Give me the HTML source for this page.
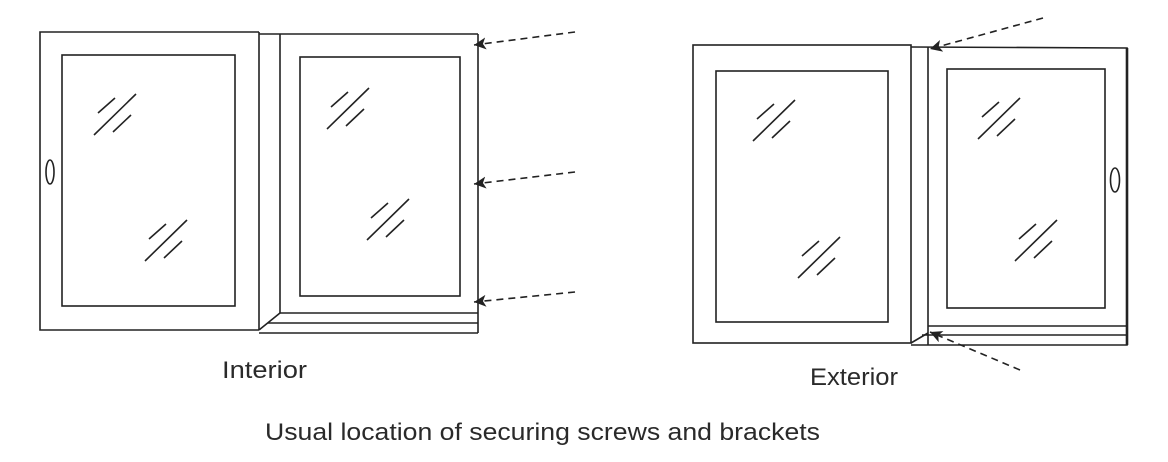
<!DOCTYPE html>
<html><head><style>
html,body{margin:0;padding:0;background:#fff;}
svg{display:block;}
text{font-family:"Liberation Sans",sans-serif;fill:#2a2a2a;}
</style></head><body>
<svg width="1168" height="462" viewBox="0 0 1168 462" xmlns="http://www.w3.org/2000/svg">
<defs>
<g id="m" stroke="#222" stroke-width="1.6" fill="none">
<line x1="4" y1="19" x2="21" y2="4"/>
<line x1="0" y1="41" x2="42" y2="0"/>
<line x1="19" y1="38" x2="37" y2="21"/>
</g>
<marker id="ah" markerWidth="14" markerHeight="14" refX="12" refY="6" orient="auto" markerUnits="userSpaceOnUse">
<path d="M0,0 L12,6 L0,12 L3,6 Z" fill="#222"/>
</marker>
</defs>
<g stroke="#222" stroke-width="1.6" fill="none">
<!-- Interior -->
<polyline points="259,32 40,32 40,330 259,330"/>
<rect x="62" y="55" width="173" height="251"/>
<ellipse cx="50" cy="172" rx="4" ry="12"/>
<line x1="259" y1="32" x2="259" y2="330"/>
<line x1="280" y1="34" x2="280" y2="313"/>
<line x1="259" y1="34" x2="478" y2="34"/>
<line x1="478" y1="34" x2="478" y2="333"/>
<rect x="300" y="57" width="160" height="239"/>
<line x1="280" y1="313" x2="478" y2="313"/>
<line x1="268" y1="323" x2="478" y2="323"/>
<line x1="259" y1="333" x2="478" y2="333"/>
<line x1="259" y1="330" x2="280" y2="313"/>
<!-- Exterior -->
<rect x="693" y="45" width="218" height="298"/>
<rect x="716" y="71" width="172" height="251"/>
<line x1="928" y1="47" x2="928" y2="345"/>
<polyline points="911,47 1127,48 1127,345 911,345" />
<line x1="1127" y1="48" x2="1127" y2="345" stroke-width="2.6"/>
<rect x="947" y="69" width="158" height="239"/>
<ellipse cx="1115" cy="180" rx="4.5" ry="12"/>
<line x1="928" y1="326" x2="1127" y2="326"/>
<line x1="922" y1="335" x2="1127" y2="335"/>
<line x1="911" y1="343" x2="928" y2="333"/>
</g>
<use href="#m" x="94" y="94"/>
<use href="#m" x="145" y="220"/>
<use href="#m" x="327" y="88"/>
<use href="#m" x="367" y="199"/>
<use href="#m" x="753" y="100"/>
<use href="#m" x="798" y="237"/>
<use href="#m" x="978" y="98"/>
<use href="#m" x="1015" y="220"/>
<g stroke="#222" stroke-width="1.6" stroke-dasharray="7,5" fill="none">
<line x1="575" y1="32" x2="474" y2="45" marker-end="url(#ah)"/>
<line x1="575" y1="172" x2="474" y2="184" marker-end="url(#ah)"/>
<line x1="575" y1="292" x2="474" y2="302" marker-end="url(#ah)"/>
<line x1="1043" y1="18" x2="930" y2="49" marker-end="url(#ah)"/>
<line x1="1020" y1="370" x2="930" y2="332" marker-end="url(#ah)"/>
</g>
<text x="222" y="378" font-size="24" textLength="85" lengthAdjust="spacingAndGlyphs">Interior</text>
<text x="810" y="385" font-size="24" textLength="88" lengthAdjust="spacingAndGlyphs">Exterior</text>
<text x="265" y="440" font-size="24" textLength="555" lengthAdjust="spacingAndGlyphs">Usual location of securing screws and brackets</text>
</svg>
</body></html>
